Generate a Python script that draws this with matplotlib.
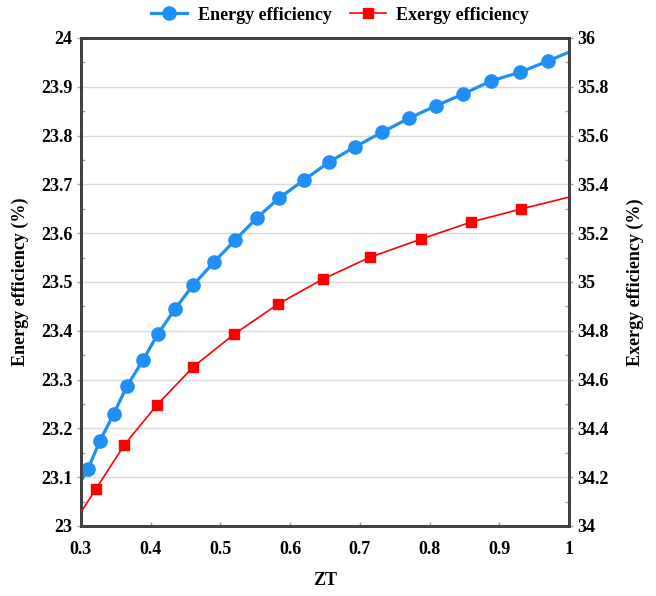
import matplotlib
matplotlib.use("Agg")
import matplotlib.pyplot as plt
from matplotlib.ticker import MultipleLocator, FuncFormatter

plt.rcParams['font.family'] = ['Liberation Serif', 'DejaVu Serif']
plt.rcParams['font.weight'] = 'bold'

# Energy efficiency (left axis); first and last points are line ends without markers
zt_energy = [0.300, 0.310, 0.327, 0.347, 0.366, 0.389, 0.410, 0.435, 0.461, 0.491,
             0.521, 0.552, 0.584, 0.620, 0.656, 0.693, 0.732, 0.771, 0.809, 0.848,
             0.888, 0.930, 0.970, 1.000]
energy = [23.092, 23.117, 23.174, 23.230, 23.287, 23.340, 23.393, 23.445, 23.494, 23.541,
          23.586, 23.631, 23.672, 23.709, 23.746, 23.777, 23.807, 23.836, 23.861, 23.885,
          23.912, 23.930, 23.953, 23.971]

# Exergy efficiency (right axis)
zt_exergy = [0.300, 0.3215, 0.362, 0.409, 0.461, 0.520, 0.583, 0.647, 0.715, 0.788,
             0.860, 0.931, 1.000]
exergy = [34.057, 34.152, 34.332, 34.496, 34.652, 34.787, 34.910, 35.012, 35.102, 35.176,
          35.246, 35.299, 35.348]

x_ticks = [0.3, 0.4, 0.5, 0.6, 0.7, 0.8, 0.9, 1.0]

blue = '#1E8FF5'
red = '#FF0000'
spine_c = '#404040'
FS = 13

fig = plt.figure(figsize=(6.56, 5.96), dpi=100)
ax = fig.add_axes([81/656, 70/596, 488/656, 488/596])
ax2 = ax.twinx()

l1, = ax.plot(zt_energy, energy, color=blue, lw=2.3, marker='o', ms=9.5,
              markevery=list(range(1, len(zt_energy) - 1)), zorder=3)
l2, = ax2.plot(zt_exergy, exergy, color=red, lw=1.2, marker='s', ms=6.5,
               markevery=list(range(1, len(zt_exergy) - 1)), zorder=3)

ax.set_xlim(0.3, 1.0)
ax.set_ylim(23, 24)
ax2.set_ylim(34, 36)
ax.set_xticks(x_ticks)
ax.yaxis.set_major_locator(MultipleLocator(0.1))
ax.yaxis.set_minor_locator(MultipleLocator(0.05))
ax2.yaxis.set_major_locator(MultipleLocator(0.2))
ax2.yaxis.set_minor_locator(MultipleLocator(0.1))

fmt = FuncFormatter(lambda v, p: ('%g' % round(v, 3)))
ax.xaxis.set_major_formatter(fmt)
ax.yaxis.set_major_formatter(fmt)
ax2.yaxis.set_major_formatter(fmt)

ax.grid(axis='y', color='#d9d9d9', lw=1.0, zorder=0)
ax.set_axisbelow(True)

for a in (ax, ax2):
    for s in a.spines.values():
        s.set_color(spine_c)
        s.set_linewidth(2.0)
    a.tick_params(which='major', labelsize=FS, length=3, color='#a0a0a0', width=1, pad=3)
    a.tick_params(which='minor', length=3, color='#a0a0a0', width=1, direction='in')
    for lab in a.get_xticklabels() + a.get_yticklabels():
        lab.set_fontweight('bold')
ax.tick_params(axis='x', direction='in', pad=11)

ax.set_xlabel('ZT', fontsize=FS, fontweight='bold', labelpad=10)
ax.set_ylabel('Energy efficiency (%)', fontsize=FS, fontweight='bold', labelpad=9)
ax2.set_ylabel('Exergy efficiency (%)', fontsize=FS, fontweight='bold', labelpad=13)

fig.legend([l1, l2], ['Energy efficiency', 'Exergy efficiency'], loc='center',
           bbox_to_anchor=(340/656, 1 - 15/596), ncol=2, frameon=False,
           prop={'family': 'Liberation Serif', 'weight': 'bold', 'size': FS},
           handlelength=2.0, columnspacing=1.0, handletextpad=0.6)

fig.savefig('out.png', dpi=100)
